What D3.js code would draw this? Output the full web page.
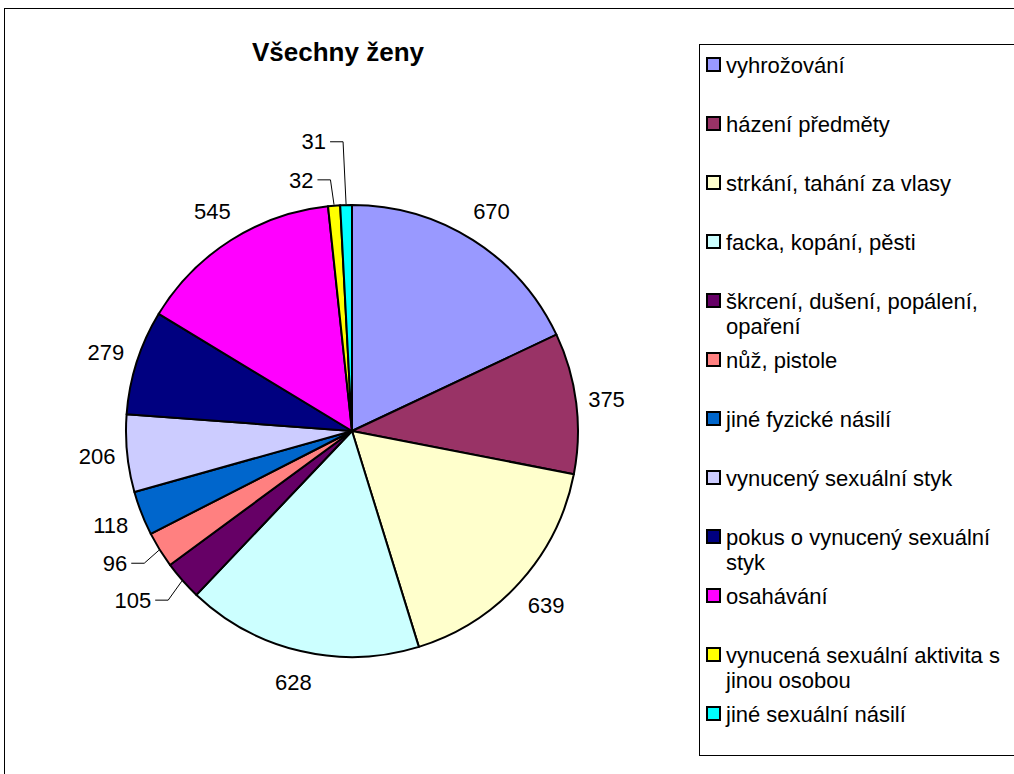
<!DOCTYPE html>
<html>
<head>
<meta charset="utf-8">
<script src="https://cdn.jsdelivr.net/npm/d3@7"></script>
<style>
  body { margin: 0; background: #fff; }
  text { font-family: "Liberation Sans", Arial, sans-serif; }
</style>
</head>
<body>
<div id="chart"></div>
<script>
const title = "Všechny ženy";

const categories = [
    "vyhrožování",
    "házení předměty",
    "strkání, tahání za vlasy",
    "facka, kopání, pěsti",
    "škrcení, dušení, popálení, opaření",
    "nůž, pistole",
    "jiné fyzické násilí",
    "vynucený sexuální styk",
    "pokus o vynucený sexuální styk",
    "osahávání",
    "vynucená sexuální aktivita s jinou osobou",
    "jiné sexuální násilí"
];

const values = [670, 375, 639, 628, 105, 96, 118, 206, 279, 545, 32, 31];

const colors = ["#9999FF", "#993366", "#FFFFCC", "#CCFFFF", "#660066", "#FF8080",
    "#0066CC", "#CCCCFF", "#000080", "#FF00FF", "#FFFF00", "#00FFFF"];

// labels Excel pushed aside (drawn with a leader line)
const labelNudge = [[0, 0], [0, 0], [0, 0], [0, 0], [-23.5, -3.5], [-15.5, -4.6],
    [0, 0], [0, 0], [0, 0], [0, 0], [-30.5, 4], [-31.5, -34]];

const width = 1014, height = 774;
const cx = 352, cy = 431, radius = 226;

const svg = d3.select("#chart").append("svg")
    .attr("width", width)
    .attr("height", height);

// outer chart frame
svg.append("rect")
    .attr("x", 4.5).attr("y", 8.5)
    .attr("width", width + 20).attr("height", height + 20)
    .attr("fill", "none").attr("stroke", "#000").attr("stroke-width", 1);

svg.append("text")
    .attr("x", 338).attr("y", 61)
    .attr("text-anchor", "middle")
    .style("font-size", "26px").style("font-weight", "bold")
    .text(title);

const pie = d3.pie().sort(null).value(d => d);
const arcs = pie(values);
const arc = d3.arc().innerRadius(0).outerRadius(radius);

const g = svg.append("g").attr("transform", "translate(" + cx + "," + cy + ")");

g.selectAll("path.slice")
    .data(arcs)
    .enter().append("path")
    .attr("class", "slice")
    .attr("d", arc)
    .attr("fill", (d, i) => colors[i])
    .attr("stroke", "#000")
    .attr("stroke-width", 2)
    .attr("stroke-linejoin", "round");

function polar(a, r) { return [Math.sin(a) * r, -Math.cos(a) * r]; }

const labels = g.selectAll("g.lbl")
    .data(arcs)
    .enter().append("g").attr("class", "lbl");

labels.each(function(d, i) {
    const mid = (d.startAngle + d.endAngle) / 2;
    const R = 255 + 6 * Math.abs(Math.sin(2 * mid));
    const p = polar(mid, R);
    const lx = p[0] + labelNudge[i][0], ly = p[1] + labelNudge[i][1];
    const t = d3.select(this).append("text")
        .attr("x", lx).attr("y", ly)
        .attr("dy", "0.35em")
        .attr("text-anchor", "middle")
        .style("font-size", "22px")
        .text(d.value);
    if (labelNudge[i][0] !== 0 || labelNudge[i][1] !== 0) {
        const w = t.node().getComputedTextLength();
        const e = polar(mid, radius + 1);
        d3.select(this).insert("polyline", "text")
            .attr("points", [[lx + w / 2 + 4, ly], [lx + w / 2 + 17, ly], e].map(q => q.join(",")).join(" "))
            .attr("fill", "none").attr("stroke", "#000").attr("stroke-width", 1);
    }
});

// legend
const legend = svg.append("g");
legend.append("rect")
    .attr("x", 699.5).attr("y", 44.5)
    .attr("width", 400).attr("height", 711)
    .attr("fill", "#fff").attr("stroke", "#000").attr("stroke-width", 1);

const legendY = d3.scalePoint().domain(categories).range([65, 714]);

const items = legend.selectAll("g.item")
    .data(categories)
    .enter().append("g").attr("class", "item")
    .attr("transform", d => "translate(0," + legendY(d) + ")");

items.append("rect")
    .attr("x", 707).attr("y", -7)
    .attr("width", 13).attr("height", 13)
    .attr("fill", (d, i) => colors[i])
    .attr("stroke", "#000").attr("stroke-width", 2);

items.each(function(d) {
    const t = d3.select(this).append("text")
        .attr("x", 726).attr("y", 0)
        .style("font-size", "22px");
    const words = d.split(" ");
    let line = [], lineNo = 0;
    let tspan = t.append("tspan").attr("x", 726).attr("dy", "0.35em");
    for (const w of words) {
        line.push(w);
        tspan.text(line.join(" "));
        if (tspan.node().getComputedTextLength() > 288 && line.length > 1) {
            line.pop();
            tspan.text(line.join(" "));
            line = [w];
            lineNo++;
            tspan = t.append("tspan").attr("x", 726).attr("dy", "25px").text(w);
        }
    }
});
</script>
</body>
</html>
